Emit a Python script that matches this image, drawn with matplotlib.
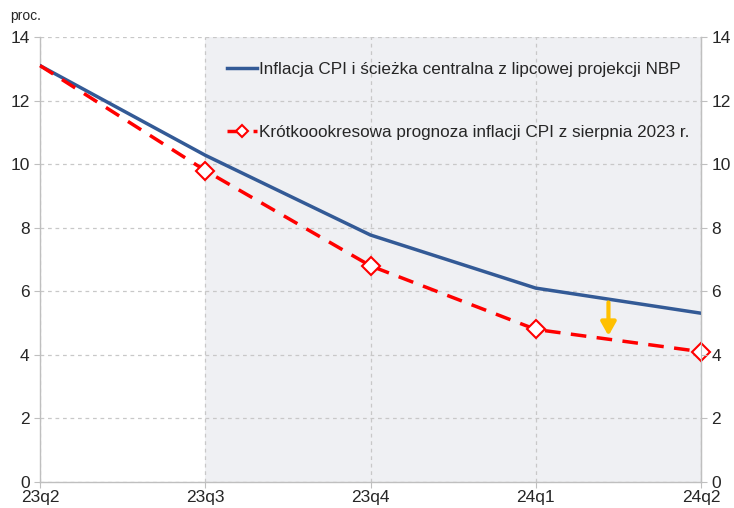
import matplotlib
matplotlib.use("Agg")
import matplotlib.pyplot as plt

categories = ["23q2", "23q3", "23q4", "24q1", "24q2"]
nbp_path = [13.1, 10.28, 7.77, 6.1, 5.31]
short_forecast = [13.1, 9.8, 6.8, 4.8, 4.1]
label_nbp = "Inflacja CPI i ścieżka centralna z lipcowej projekcji NBP"
label_short = "Krótkoookresowa prognoza inflacji CPI z sierpnia 2023 r."
yticks = [0, 2, 4, 6, 8, 10, 12, 14]
arrow_x = 3.44
arrow_y_start = 5.65
arrow_y_end = 4.6

plt.rcParams['font.family'] = ['Liberation Sans', 'DejaVu Sans']

fig = plt.figure(figsize=(7.34, 5.08), dpi=100)
ax = fig.add_axes([40/734, 1-482/508, (701-40)/734, (482-37)/508])

x = list(range(len(categories)))
ax.axvspan(1, 4, color="#EFF0F3", zorder=0, lw=0)

ax.plot(x, nbp_path, color="#335A96", lw=2.5, zorder=3, label=label_nbp)
ax.plot(x, short_forecast, color="#FF0000", lw=2.5, ls=(0, (4.5, 3)), zorder=4,
        marker="D", markersize=9, markerfacecolor="white", markeredgecolor="#FF0000",
        markeredgewidth=1.5, markevery=[1, 2, 3, 4], label=label_short, clip_on=False)

ax.annotate("", xy=(arrow_x, arrow_y_end), xytext=(arrow_x, arrow_y_start),
            arrowprops=dict(arrowstyle="-|>,head_width=0.45,head_length=0.8",
                            color="#FFC000", lw=3, shrinkA=0, shrinkB=0), zorder=5)

ax.set_xlim(0, 4)
ax.set_ylim(0, 14)
ax.set_xticks(x)
ax.set_xticklabels(categories)
ax.set_yticks(yticks)
ax.grid(True, color="#C8C8C8", ls=(0, (3, 3)), lw=0.9, zorder=1)
ax.set_axisbelow(True)

ax.spines["top"].set_visible(False)
for side in ["left", "right", "bottom"]:
    ax.spines[side].set_color("#BFBFBF")
    ax.spines[side].set_linewidth(1.0)

ax.tick_params(axis="both", colors="#BFBFBF", labelcolor="#262626", labelsize=12.5, length=4)
ax.tick_params(axis="x", pad=2)

ax2 = ax.twinx()
ax2.set_ylim(0, 14)
ax2.set_yticks(yticks)
for side in ["top", "left", "bottom"]:
    ax2.spines[side].set_visible(False)
ax2.spines["right"].set_color("#BFBFBF")
ax2.tick_params(axis="y", colors="#BFBFBF", labelcolor="#262626", labelsize=12.5, length=4)

fig.text(10/734, 1-16/508, "proc.", fontsize=10, color="#262626", va="center")

leg = ax.legend(loc="upper right", bbox_to_anchor=(1.0, 0.97), frameon=False,
                fontsize=12.3, handlelength=1.75, handletextpad=0.1, markerscale=0.7,
                labelspacing=2.8, borderaxespad=0.3, labelcolor="#262626")

fig.savefig("out.png", dpi=100)
